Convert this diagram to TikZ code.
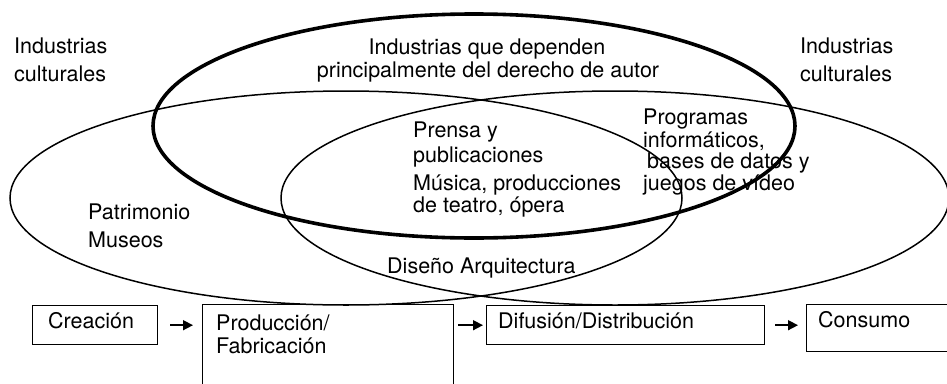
\documentclass[tikz,border=0pt]{standalone}
\usepackage{fontspec}
\setmainfont{TeX Gyre Heros}
\usetikzlibrary{arrows.meta}
\begin{document}
\begin{tikzpicture}[x=1pt,y=-1pt,
  txt/.style={font=\fontsize{21.5}{26}\selectfont, inner sep=0pt, anchor=base west},
  ctxt/.style={txt, anchor=base},
  box/.style={draw, line width=1.4pt, inner sep=0pt, anchor=north west},
  arr/.style={-{Triangle[length=10pt,width=10pt]}, line width=1.5pt},
  thinell/.style={line width=1.5pt},
  thickell/.style={line width=3.6pt}]
\useasboundingbox (0,0) rectangle (947,383);
\clip (0,0) rectangle (947,383);
% ellipses
\draw[thinell] (346,198) ellipse [x radius=336, y radius=107];
\draw[thinell] (615,198) ellipse [x radius=334, y radius=107];
\draw[thickell] (474,126) ellipse [x radius=321, y radius=112];
% boxes
\node[box, minimum width=125pt, minimum height=39pt] (crea) at (32,305) {};
\node[box, minimum width=251pt, minimum height=120pt] (prod) at (202,304) {};
\node[box, minimum width=278pt, minimum height=39pt] (dif) at (486,305) {};
\node[box, minimum width=160pt, minimum height=47pt] (cons) at (806,304) {};
% box texts
\node[txt] (crT) at (48,328) {Creación};
\node[txt] (prT1) at (216,330) {Producción/};
\node[txt] (prT2) at (216,353) {Fabricación};
\node[txt] (diT) at (498,328) {Difusión/Distribución};
\node[txt] (coT) at (818,327) {Consumo};
% arrows
\draw[arr, shorten <=12pt, shorten >=9pt] (crea.east) -- (crea.east -| prod.west);
\draw[arr, shorten <=4pt, shorten >=3pt] (prod.east |- dif.west) -- (dif.west);
\draw[arr, shorten <=10pt, shorten >=8pt] (dif.east) -- (dif.east -| cons.west);
% labels
\node[txt] (icL1) at (14,53) {Industrias};
\node[txt] (icL2) at (14,81) {culturales};
\node[txt] (icR1) at (800,53) {Industrias};
\node[txt] (icR2) at (800,81) {culturales};
\node[ctxt] (da1) at (487,54) {Industrias que dependen};
\node[ctxt] (da2) at (488,77) {principalmente del derecho de autor};
\node[txt] (pr1) at (413,137) {Prensa y};
\node[txt] (pr2) at (413,162) {publicaciones};
\node[txt] (mu1) at (413,190) {Música, producciones};
\node[txt] (mu2) at (413,212) {de teatro, ópera};
\node[txt] (pg1) at (643,124) {Programas};
\node[txt] (pg2) at (643,147) {informáticos,};
\node[txt] (pg3) at (647,168) {bases de datos y};
\node[txt] (pg4) at (643,190) {juegos de vídeo};
\node[txt] (pa1) at (88,219) {Patrimonio};
\node[txt] (pa2) at (88,247) {Museos};
\node[txt] (dis) at (387,273) {Diseño Arquitectura};
\end{tikzpicture}
\end{document}
